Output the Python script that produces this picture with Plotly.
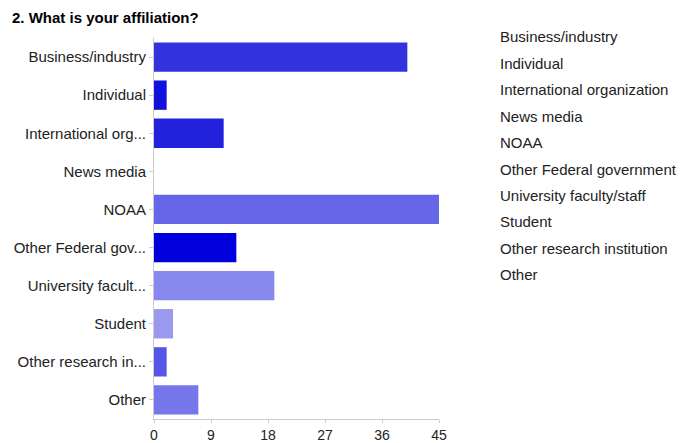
import plotly.graph_objects as go

categories = ["Business/industry", "Individual", "International organization", "News media",
              "NOAA", "Other Federal government", "University faculty/staff", "Student",
              "Other research institution", "Other"]
tick_labels = ["Business/industry", "Individual", "International org...", "News media",
               "NOAA", "Other Federal gov...", "University facult...", "Student",
               "Other research in...", "Other"]
values = [40, 2, 11, 0, 45, 13, 19, 3, 2, 7]
colors = ["#3333DD", "#1111DD", "#2222DD", "#4444E0", "#6666E8", "#0000DD",
          "#8888EE", "#9999EE", "#5555E6", "#7777EC"]
x_ticks = [0, 9, 18, 27, 36, 45]

W, H = 680, 443
L, R, T, B = 154, 439, 38, 419

fig = go.Figure(go.Bar(
    y=categories, x=values, orientation="h",
    marker=dict(color=colors, line=dict(width=0)),
    showlegend=False,
))

font = "Liberation Sans, Arial, sans-serif"
fs = 15

fig.update_layout(
    width=W, height=H,
    margin=dict(l=L, r=W - R, t=T, b=H - B, autoexpand=False),
    paper_bgcolor="white", plot_bgcolor="white",
    bargap=0.23,
    font=dict(family=font, size=fs, color="#222222"),
    xaxis=dict(range=[0, 45], tickvals=x_ticks, showgrid=False, zeroline=False,
               showline=True, linecolor="#cccccc", linewidth=1,
               ticks="outside", ticklen=3, tickcolor="#cccccc",
               tickfont=dict(size=14, color="#222222"), automargin=False),
    yaxis=dict(categoryorder="array", categoryarray=categories,
               tickvals=categories, ticktext=tick_labels,
               autorange="reversed", showgrid=False, zeroline=False,
               showline=True, linecolor="#cccccc", linewidth=1,
               ticks="outside", ticklen=4, tickcolor="#cccccc",
               tickfont=dict(size=fs, color="#222222"), automargin=False),
)

annotations = [dict(
    text="<b>2. What is your affiliation?</b>",
    xref="paper", yref="paper",
    x=(10 - L) / (R - L), y=(B - 17) / (B - T),
    xanchor="left", yanchor="middle", showarrow=False,
    font=dict(family=font, size=fs, color="#000000"),
)]
legend_y0, legend_step = 37, 26.4
for i, name in enumerate(categories):
    py = legend_y0 + i * legend_step
    annotations.append(dict(
        text=name, xref="paper", yref="paper",
        x=(498 - L) / (R - L), y=(B - py) / (B - T),
        xanchor="left", yanchor="middle", showarrow=False,
        font=dict(family=font, size=fs, color="#222222"),
    ))
fig.update_layout(annotations=annotations)

fig.write_html("out.html", config={"displayModeBar": False},
               post_script="document.body.style.margin='0';")
